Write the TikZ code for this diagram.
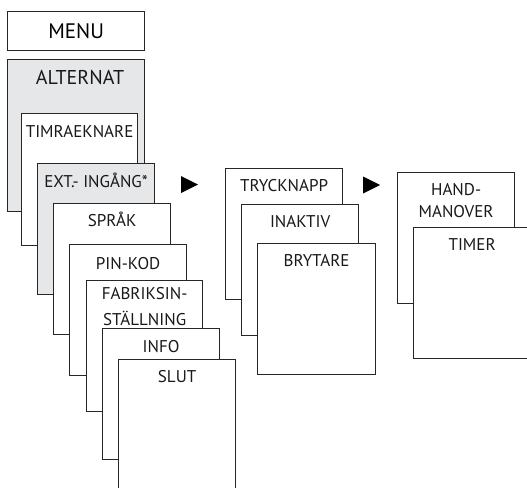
\documentclass[tikz,border=0pt]{standalone}
\usepackage{fontspec}
\setmainfont{PT Sans}
\usetikzlibrary{shapes.geometric}
\definecolor{menugrey}{RGB}{230,231,232}

\begin{document}
\begin{tikzpicture}[x=1pt, y=-1pt,
  every node/.style={font=\fontsize{17}{21}\selectfont},
  box/.style={draw=black!85, line width=1.2pt, fill=white, anchor=north west, inner sep=0pt, minimum width=117pt, minimum height=131pt},
  greybox/.style={box, fill=menugrey},
  title/.style={anchor=north, inner sep=0pt, align=center, text=black!90},
  title1/.style={title, text height=12pt},
  tri/.style={isosceles triangle, isosceles triangle stretches, fill=black, inner sep=0pt, outer sep=0pt, minimum width=17pt, minimum height=17pt, anchor=west}]
\useasboundingbox (0,0) rectangle (527,487);
\clip (0,0) rectangle (527,487);
% main menu column
\node[box, minimum width=137pt, minimum height=39pt, font=\fontsize{21}{24}\selectfont] (menu) at (7,11) {MENU};
\node[greybox, minimum width=137pt, minimum height=152pt] (alt) at (7,59) {};
\node[title1, text height=14pt, xshift=4pt, font=\fontsize{20}{24}\selectfont] (altT) at ([yshift=-11pt]alt.north) {ALTERNAT};
\node[box, minimum width=116pt, minimum height=132pt] (timr) at (21,113) {};
\node[title1] (timrT) at ([yshift=-12pt]timr.north) {TIMRAEKNARE};
\node[greybox] (ext) at (37,163) {};
\node[title1] (extT) at ([yshift=-12pt]ext.north) {EXT.- INGÅNG*};
\node[box] (sprak) at (53,203) {};
\node[title1] (sprakT) at ([yshift=-11pt]sprak.north) {SPRÅK};
\node[box] (pin) at (69,244) {};
\node[title1] (pinT) at ([yshift=-13pt]pin.north) {PIN-KOD};
\node[box, minimum width=116pt] (fabr) at (86,280) {};
\node[title] (fabrT) at ([yshift=-7pt]fabr.north) {FABRIKSIN-\\[5pt]STÄLLNING};
\node[box] (info) at (102,328) {};
\node[title1] (infoT) at ([yshift=-12pt]info.north) {INFO};
\node[box] (slut) at (118,359) {};
\node[title1] (slutT) at ([yshift=-11pt]slut.north) {SLUT};
% external input
\node[tri] (arrA) at (181,184.5) {};
\node[box] (tryck) at (225,168) {};
\node[title1] (tryckT) at ([yshift=-11pt]tryck.north) {TRYCKNAPP};
\node[box] (inakt) at (241,204) {};
\node[title1] (inaktT) at ([yshift=-11pt]inakt.north) {INAKTIV};
\node[box, minimum width=118pt] (bryt) at (257,243) {};
\node[title1] (brytT) at ([yshift=-11pt]bryt.north) {BRYTARE};
% switch function
\node[tri] (arrB) at (363,185) {};
\node[box] (hand) at (397,172) {};
\node[title] (handT) at ([yshift=-11pt]hand.north) {HAND-\\[1pt]MANOVER};
\node[box] (timer) at (413,227) {};
\node[title1] (timerT) at ([yshift=-11pt]timer.north) {TIMER};
\end{tikzpicture}
\end{document}
